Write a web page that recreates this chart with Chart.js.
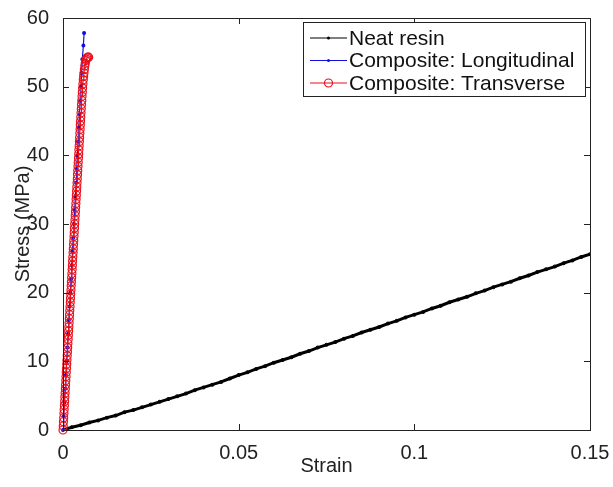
<!DOCTYPE html>
<html>
<head>
<meta charset="utf-8">
<script src="https://cdn.jsdelivr.net/npm/chart.js@4.4.1/dist/chart.umd.min.js"></script>
<style>
  html, body { margin: 0; padding: 0; background: #fff; }
  #wrap { width: 613px; height: 487px; }
</style>
</head>
<body>
<div id="wrap"><canvas id="stressChart" width="613" height="487"></canvas></div>
<script>
// ---- data ----
const xTicks = [0, 0.05, 0.1, 0.15];
const yTicks = [0, 10, 20, 30, 40, 50, 60];

const seriesNames = ["Neat resin", "Composite: Longitudinal", "Composite: Transverse"];

const neatStrain = [
  0, 0.0025, 0.005, 0.0075, 0.01, 0.0125, 0.015, 0.0175, 0.02, 0.0225,
  0.025, 0.0275, 0.03, 0.0325, 0.035, 0.0375, 0.04, 0.0425, 0.045, 0.0475,
  0.05, 0.0525, 0.055, 0.0575, 0.06, 0.0625, 0.065, 0.0675, 0.07, 0.0725,
  0.075, 0.0775, 0.08, 0.0825, 0.085, 0.0875, 0.09, 0.0925, 0.095, 0.0975,
  0.1, 0.1025, 0.105, 0.1075, 0.11, 0.1125, 0.115, 0.1175, 0.12, 0.1225,
  0.125, 0.1275, 0.13, 0.1325, 0.135, 0.1375, 0.14, 0.1425, 0.145, 0.1475,
  0.15
];
const neatStress = [
  0.0, 0.4, 0.7, 1.1, 1.4, 1.8, 2.1, 2.6, 2.9, 3.3,
  3.7, 4.1, 4.5, 4.9, 5.3, 5.8, 6.2, 6.6, 7.0, 7.5,
  8.0, 8.4, 8.9, 9.3, 9.8, 10.2, 10.6, 11.1, 11.5, 12.0,
  12.4, 12.8, 13.3, 13.7, 14.2, 14.6, 15.0, 15.5, 15.9, 16.4,
  16.8, 17.2, 17.7, 18.1, 18.6, 19.0, 19.4, 19.9, 20.3, 20.8,
  21.2, 21.6, 22.1, 22.5, 23.0, 23.4, 23.8, 24.3, 24.7, 25.2,
  25.6
];

const longStrain = [
  0, 0.0002, 0.0004, 0.0006, 0.0008, 0.00105, 0.00125, 0.00145, 0.00165, 0.00185,
  0.0021, 0.0023, 0.0025, 0.0027, 0.0029, 0.0031, 0.0033, 0.00355, 0.00375, 0.0039,
  0.0041, 0.0043, 0.0045, 0.0047, 0.0049, 0.0051, 0.0053, 0.0055, 0.0058, 0.006
];
const longStress = [
  0, 2, 4, 6, 8, 10, 12, 14, 16, 18,
  20, 22, 24, 26, 28, 30, 32, 34, 36, 38,
  40, 42, 44, 46, 48, 50, 52, 54, 56, 57.8
];

const transStrain = [
  0, 0.00007, 0.00013, 0.0002, 0.00027, 0.00033, 0.0004, 0.00047, 0.00053, 0.0006,
  0.00067, 0.00073, 0.0008, 0.00087, 0.00093, 0.001, 0.00107, 0.00113, 0.0012, 0.00127,
  0.00133, 0.0014, 0.00147, 0.00153, 0.0016, 0.00167, 0.00173, 0.0018, 0.00187, 0.00193,
  0.002, 0.00207, 0.00213, 0.0022, 0.00227, 0.00233, 0.0024, 0.00247, 0.00253, 0.0026,
  0.00267, 0.00273, 0.0028, 0.00287, 0.00293, 0.003, 0.00307, 0.00313, 0.0032, 0.00327,
  0.00333, 0.0034, 0.00347, 0.00353, 0.0036, 0.00367, 0.00373, 0.0038, 0.00387, 0.00393,
  0.004, 0.00407, 0.00413, 0.0042, 0.00427, 0.00433, 0.0044, 0.00447, 0.00453, 0.0046,
  0.00467, 0.00473, 0.0048, 0.00487, 0.00493, 0.005, 0.00507, 0.00513, 0.0052, 0.00527,
  0.00535, 0.00542, 0.0055, 0.00558, 0.00567, 0.00577, 0.00587, 0.00597, 0.00608, 0.0062,
  0.00633, 0.00648, 0.00663, 0.0068, 0.00705, 0.0073
];
const transStress = [
  0, 0.6, 1.2, 1.8, 2.4, 3.0, 3.6, 4.2, 4.8, 5.4,
  6.0, 6.6, 7.2, 7.8, 8.4, 9.0, 9.6, 10.2, 10.8, 11.4,
  12.0, 12.6, 13.2, 13.8, 14.4, 15.0, 15.6, 16.2, 16.8, 17.4,
  18.0, 18.6, 19.2, 19.8, 20.4, 21.0, 21.6, 22.2, 22.8, 23.4,
  24.0, 24.6, 25.2, 25.8, 26.4, 27.0, 27.6, 28.2, 28.8, 29.4,
  30.0, 30.6, 31.2, 31.8, 32.4, 33.0, 33.6, 34.2, 34.8, 35.4,
  36.0, 36.6, 37.2, 37.8, 38.4, 39.0, 39.6, 40.2, 40.8, 41.4,
  42.0, 42.6, 43.2, 43.8, 44.4, 45.0, 45.6, 46.2, 46.8, 47.4,
  48.0, 48.6, 49.2, 49.8, 50.4, 51.0, 51.5, 52.0, 52.5, 53.0,
  53.4, 53.8, 54.0, 54.2, 54.3, 54.3
];

// ---- helpers ----
const FONT = "'Liberation Sans', Arial, sans-serif";
const INK = "#222";

function zip(xs, ys) {
  return xs.map((x, i) => ({ x: x, y: ys[i] }));
}

function drawMarker(ctx, style, x, y) {
  ctx.beginPath();
  if (style === "circle") {
    ctx.arc(x, y, 4, 0, Math.PI * 2);
    ctx.stroke();
  } else {
    ctx.arc(x, y, 1.5, 0, Math.PI * 2);
    ctx.fill();
  }
}

// ---- axes box, inward ticks and legend (matlab look) ----
const frame = {
  id: "frame",
  afterDraw(chart) {
    const ctx = chart.ctx;
    const a = chart.chartArea;
    const xs = chart.scales.x;
    const ys = chart.scales.y;
    const tl = 6;

    ctx.save();
    ctx.strokeStyle = INK;
    ctx.lineWidth = 1;
    ctx.strokeRect(a.left + 0.5, a.top + 0.5, a.right - a.left, a.bottom - a.top);

    ctx.beginPath();
    xTicks.forEach((v) => {
      const px = Math.round(xs.getPixelForValue(v)) + 0.5;
      ctx.moveTo(px, a.bottom);
      ctx.lineTo(px, a.bottom - tl);
      ctx.moveTo(px, a.top);
      ctx.lineTo(px, a.top + tl);
    });
    yTicks.forEach((v) => {
      const py = Math.round(ys.getPixelForValue(v)) + 0.5;
      ctx.moveTo(a.left, py);
      ctx.lineTo(a.left + tl, py);
      ctx.moveTo(a.right, py);
      ctx.lineTo(a.right - tl, py);
    });
    ctx.stroke();

    // legend box
    const box = { left: 303, top: 22, right: 585, bottom: 96 };
    ctx.fillStyle = "#fff";
    ctx.fillRect(box.left, box.top, box.right - box.left, box.bottom - box.top);
    ctx.strokeStyle = INK;
    ctx.strokeRect(box.left + 0.5, box.top + 0.5, box.right - box.left, box.bottom - box.top);

    const rowY = [38, 60.5, 83];
    ctx.font = "21px " + FONT;
    ctx.textBaseline = "middle";
    ctx.textAlign = "left";
    chart.data.datasets.forEach((ds, i) => {
      const y = rowY[i];
      ctx.strokeStyle = ds.borderColor;
      ctx.fillStyle = ds.borderColor;
      ctx.lineWidth = 1.2;
      ctx.beginPath();
      ctx.moveTo(310, y);
      ctx.lineTo(347, y);
      ctx.stroke();
      drawMarker(ctx, ds.pointRadius > 2 ? "circle" : "dot", 328.5, y);
      ctx.fillStyle = "#111";
      ctx.fillText(seriesNames[i], 349, y + 1);
    });
    ctx.restore();
  },
};

// ---- chart ----
Chart.defaults.font.family = FONT;
Chart.defaults.color = INK;

const ctx = document.getElementById("stressChart").getContext("2d");
new Chart(ctx, {
  type: "scatter",
  data: {
    datasets: [
      {
        label: seriesNames[0],
        data: zip(neatStrain, neatStress),
        showLine: true,
        borderColor: "#000",
        backgroundColor: "#000",
        borderWidth: 3,
        pointStyle: "circle",
        pointRadius: 0.5,
        order: 2,
      },
      {
        label: seriesNames[1],
        data: zip(longStrain, longStress),
        showLine: true,
        borderColor: "#1010e0",
        backgroundColor: "#1010e0",
        borderWidth: 1.2,
        pointStyle: "circle",
        pointRadius: 1.4,
        clip: 8,
        order: 1,
      },
      {
        label: seriesNames[2],
        data: zip(transStrain, transStress),
        showLine: true,
        borderColor: "#e8101c",
        backgroundColor: "rgba(0,0,0,0)",
        borderWidth: 1.2,
        pointStyle: "circle",
        pointRadius: 4,
        pointBorderWidth: 1.2,
        clip: 8,
        order: 0,
      },
    ],
  },
  options: {
    responsive: false,
    animation: false,
    layout: { padding: { left: 0, top: 15, right: 23, bottom: 0 } },
    plugins: {
      legend: { display: false },
      tooltip: { enabled: false },
    },
    scales: {
      x: {
        type: "linear",
        min: 0,
        max: 0.15,
        grid: { display: false },
        border: { display: false },
        afterBuildTicks: (scale) => {
          scale.ticks = xTicks.map((v) => ({ value: v }));
        },
        afterFit: (scale) => {
          scale.height = 57;
        },
        ticks: {
          font: { size: 20 },
          color: INK,
          padding: 3,
          maxRotation: 0,
          callback: (v) => String(v),
        },
        title: {
          display: true,
          text: "Strain",
          font: { size: 20 },
          color: INK,
          padding: { top: 0, bottom: 9 },
        },
      },
      y: {
        type: "linear",
        min: 0,
        max: 60,
        grid: { display: false },
        border: { display: false },
        afterBuildTicks: (scale) => {
          scale.ticks = yTicks.map((v) => ({ value: v }));
        },
        afterFit: (scale) => {
          scale.width = 63;
        },
        ticks: {
          font: { size: 20 },
          color: INK,
          padding: 6,
          callback: (v) => String(v),
        },
        title: {
          display: true,
          text: "Stress (MPa)",
          font: { size: 20 },
          color: INK,
          padding: { top: 11, bottom: 0 },
        },
      },
    },
  },
  plugins: [frame],
});
</script>
</body>
</html>
